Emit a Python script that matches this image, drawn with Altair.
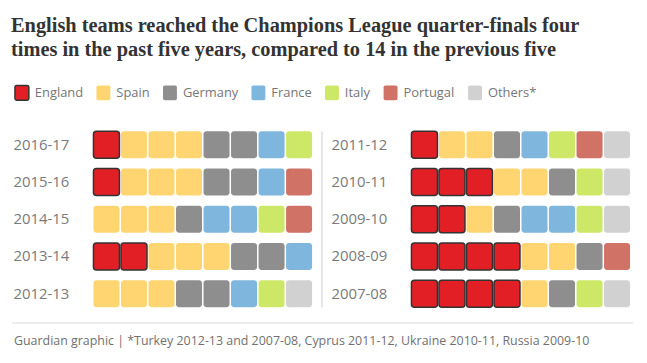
import altair as alt
import pandas as pd

teams = ["England", "Spain", "Germany", "France", "Italy", "Portugal", "Others*"]
fills = ["#e31f26", "#ffd572", "#8e8e8e", "#7fb6dd", "#cde867", "#d07266", "#d1d1d1"]
strokes = ["#333333", "transparent", "transparent", "transparent", "transparent", "transparent", "transparent"]

seasons_left = ["2016-17", "2015-16", "2014-15", "2013-14", "2012-13"]
rows_left = [
    ["England", "Spain", "Spain", "Spain", "Germany", "Germany", "France", "Italy"],
    ["England", "Spain", "Spain", "Spain", "Germany", "Germany", "France", "Portugal"],
    ["Spain", "Spain", "Spain", "Germany", "France", "France", "Italy", "Portugal"],
    ["England", "England", "Spain", "Spain", "Spain", "Germany", "Germany", "France"],
    ["Spain", "Spain", "Spain", "Germany", "Germany", "France", "Italy", "Others*"],
]
seasons_right = ["2011-12", "2010-11", "2009-10", "2008-09", "2007-08"]
rows_right = [
    ["England", "Spain", "Spain", "Germany", "France", "Italy", "Portugal", "Others*"],
    ["England", "England", "England", "Spain", "Spain", "Germany", "Italy", "Others*"],
    ["England", "England", "Spain", "Germany", "France", "France", "Italy", "Others*"],
    ["England", "England", "England", "England", "Spain", "Spain", "Germany", "Portugal"],
    ["England", "England", "England", "England", "Spain", "Germany", "Italy", "Others*"],
]

title_lines = [
    "English teams reached the Champions League quarter-finals four",
    "times in the past five years, compared to 14 in the previous five",
]
footer = "Guardian graphic | *Turkey 2012-13 and 2007-08, Cyprus 2011-12, Ukraine 2010-11, Russia 2009-10"

SANS = "Open Sans"


def to_df(seasons, rows):
    recs = []
    for s, r in zip(seasons, rows):
        for i, t in enumerate(r):
            recs.append({"season": s, "pos": i, "team": t})
    return pd.DataFrame(recs)


legend = alt.Legend(
    title=None,
    orient="none",
    legendX=-80,
    legendY=-47,
    direction="horizontal",
    symbolType="M -0.75 -1.05 H 0.75 Q 1 -1.05 1 -0.8 V 0.8 Q 1 1.05 0.75 1.05 H -0.75 Q -1 1.05 -1 0.8 V -0.8 Q -1 -1.05 -0.75 -1.05 Z",
    symbolSize=196,
    symbolStrokeWidth=1.5,
    symbolOpacity=1,
    labelFontSize=13,
    labelFont=SANS,
    labelColor="#767676",
    labelOffset=5,
    columnPadding=10,
)

W = 220
H = 177


def panel(seasons, rows, extra=False):
    df = to_df(seasons, rows)
    cells = alt.Chart(df).mark_rect(cornerRadius=3, strokeWidth=1.5).encode(
        x=alt.X("pos:O", axis=None, scale=alt.Scale(paddingInner=0.055, paddingOuter=0)),
        y=alt.Y(
            "season:N",
            sort=seasons,
            title=None,
            scale=alt.Scale(paddingInner=0.28, paddingOuter=0),
            axis=alt.Axis(
                domain=False,
                ticks=False,
                labelAlign="left",
                labelPadding=81,
                labelFontSize=15,
                labelFont=SANS,
                labelColor="#7a7a7a",
            ),
        ),
        fill=alt.Fill("team:N", scale=alt.Scale(domain=teams, range=fills), legend=legend),
        stroke=alt.Stroke("team:N", scale=alt.Scale(domain=teams, range=strokes), legend=legend),
    )
    layers = [cells]
    if extra:
        one = pd.DataFrame({"t": [footer]})
        divider = alt.Chart(one).mark_rule(color="#e6e6e6", strokeWidth=2).encode(
            x=alt.value(230), y=alt.value(0), y2=alt.value(H)
        )
        frule = alt.Chart(one).mark_rule(color="#ececec", strokeWidth=2).encode(
            x=alt.value(-82), x2=alt.value(543), y=alt.value(193)
        )
        ftext = alt.Chart(one).mark_text(
            align="left", baseline="alphabetic", fontSize=12.5, font=SANS, color="#707070"
        ).encode(text="t:N", x=alt.value(-80), y=alt.value(215))
        layers += [divider, frule, ftext]
    return alt.layer(*layers).properties(width=W, height=H)


left = panel(seasons_left, rows_left, extra=True)
right = panel(seasons_right, rows_right)

chart = (
    alt.hconcat(left, right, spacing=100, bounds="flush")
    .resolve_scale(x="independent", y="independent", fill="shared", stroke="shared")
    .properties(
        title=alt.TitleParams(
            text=title_lines,
            anchor="start",
            frame="bounds",
            font="Liberation Serif",
            fontSize=20.5,
            fontWeight="bold",
            color="#333333",
            lineHeight=24,
            offset=24,
        ),
        padding={"left": 3, "top": 7, "right": 5, "bottom": 5},
        background="white",
    )
    .configure_view(stroke=None)
)

chart.save("out.html", embed_options={"renderer": "svg", "actions": False})
